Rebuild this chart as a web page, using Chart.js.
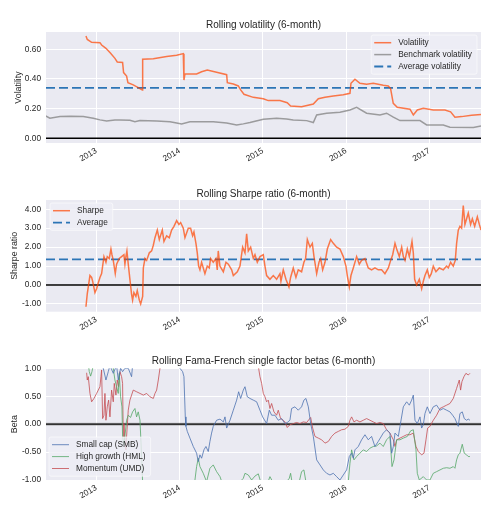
<!DOCTYPE html>
<html>
<head>
<meta charset="utf-8">
<script src="https://cdn.jsdelivr.net/npm/chart.js@4.4.1/dist/chart.umd.min.js"></script>
<style>
body { margin: 0; background: #fff; }
canvas { position: absolute; left: 0; }
</style>
</head>
<body>
<canvas id="volChart" width="499" height="170" style="top:0px"></canvas>
<canvas id="sharpeChart" width="499" height="170" style="top:170px"></canvas>
<canvas id="betaChart" width="499" height="172" style="top:340px"></canvas>
<script>
// x axis: dates as fractional years
const xMin = 2012.396, xMax = 2017.621;
const yearTicks = [2013, 2014, 2015, 2016, 2017];

// Rolling volatility
const volDates = [2012.876, 2012.892, 2012.944, 2013.044, 2013.064, 2013.116, 2013.172, 2013.224, 2013.252, 2013.316,
    2013.328, 2013.364, 2013.380, 2013.444, 2013.504, 2013.553, 2013.557, 2013.685, 2013.845, 2013.965,
    2014.045, 2014.053, 2014.065, 2014.205, 2014.265, 2014.333, 2014.445, 2014.566, 2014.574, 2014.646,
    2014.706, 2014.734, 2014.774, 2014.886, 2015.006, 2015.066, 2015.206, 2015.294, 2015.334, 2015.466,
    2015.607, 2015.667, 2015.747, 2015.847, 2015.967, 2016.047, 2016.059, 2016.107, 2016.167, 2016.247,
    2016.327, 2016.447, 2016.507, 2016.535, 2016.567, 2016.615, 2016.768, 2016.808, 2016.856, 2016.928,
    2017.048, 2017.188, 2017.256, 2017.308, 2017.388, 2017.508, 2017.621];
const volValues = [0.690, 0.667, 0.647, 0.645, 0.629, 0.607, 0.573, 0.539, 0.515, 0.512,
    0.443, 0.420, 0.375, 0.360, 0.342, 0.326, 0.533, 0.537, 0.551, 0.560,
    0.571, 0.393, 0.434, 0.434, 0.449, 0.461, 0.445, 0.429, 0.375, 0.366,
    0.353, 0.326, 0.297, 0.276, 0.267, 0.254, 0.254, 0.240, 0.218, 0.213,
    0.231, 0.267, 0.276, 0.285, 0.294, 0.303, 0.371, 0.398, 0.371, 0.364,
    0.371, 0.357, 0.353, 0.335, 0.236, 0.209, 0.196, 0.157, 0.191, 0.202,
    0.191, 0.191, 0.178, 0.142, 0.146, 0.155, 0.160];

const benchDates = [2012.391, 2012.443, 2012.564, 2012.684, 2012.844, 2012.964, 2013.044, 2013.124, 2013.224, 2013.284,
    2013.404, 2013.464, 2013.525, 2013.725, 2013.885, 2013.965, 2014.025, 2014.125, 2014.405, 2014.566,
    2014.686, 2014.766, 2014.846, 2015.006, 2015.166, 2015.286, 2015.366, 2015.527, 2015.607, 2015.647,
    2015.767, 2015.927, 2016.047, 2016.127, 2016.247, 2016.407, 2016.487, 2016.568, 2016.648, 2016.888,
    2016.968, 2017.168, 2017.248, 2017.529, 2017.621];
const benchValues = [0.151, 0.135, 0.146, 0.148, 0.146, 0.135, 0.124, 0.117, 0.124, 0.124,
    0.121, 0.112, 0.119, 0.117, 0.112, 0.103, 0.097, 0.112, 0.112, 0.103,
    0.090, 0.097, 0.106, 0.128, 0.135, 0.130, 0.124, 0.119, 0.106, 0.157,
    0.169, 0.175, 0.191, 0.209, 0.169, 0.157, 0.169, 0.142, 0.119, 0.119,
    0.090, 0.090, 0.074, 0.072, 0.083];
const avgVolatility = 0.34;
const volTicks = [0, 0.2, 0.4, 0.6];

// Rolling Sharpe ratio
const sharpeDates = [
    2012.876, 2012.892, 2012.924, 2012.944, 2012.956, 2012.984, 2013.004, 2013.016, 2013.044, 2013.064,
    2013.076, 2013.092, 2013.116, 2013.132, 2013.156, 2013.176, 2013.188, 2013.204, 2013.228, 2013.244,
    2013.276, 2013.304, 2013.332, 2013.344, 2013.356, 2013.368, 2013.384, 2013.404, 2013.424, 2013.436,
    2013.452, 2013.476, 2013.492, 2013.517, 2013.533, 2013.557, 2013.565, 2013.585, 2013.605, 2013.637,
    2013.665, 2013.685, 2013.705, 2013.733, 2013.757, 2013.793, 2013.813, 2013.845, 2013.877, 2013.905,
    2013.933, 2013.965, 2013.993, 2014.013, 2014.045, 2014.065, 2014.105, 2014.133, 2014.157, 2014.173,
    2014.197, 2014.213, 2014.229, 2014.245, 2014.265, 2014.305, 2014.333, 2014.357, 2014.373, 2014.405,
    2014.437, 2014.453, 2014.465, 2014.485, 2014.526, 2014.558, 2014.586, 2014.626, 2014.646, 2014.694,
    2014.726, 2014.758, 2014.786, 2014.806, 2014.826, 2014.854, 2014.886, 2014.906, 2014.934, 2014.966,
    2015.006, 2015.026, 2015.046, 2015.086, 2015.126, 2015.166, 2015.206, 2015.218, 2015.246, 2015.278,
    2015.314, 2015.334, 2015.366, 2015.398, 2015.426, 2015.466, 2015.494, 2015.514, 2015.535, 2015.567,
    2015.595, 2015.615, 2015.647, 2015.675, 2015.695, 2015.719, 2015.747, 2015.775, 2015.815, 2015.847,
    2015.887, 2015.927, 2015.967, 2015.999, 2016.015, 2016.039, 2016.059, 2016.087, 2016.127, 2016.159,
    2016.187, 2016.227, 2016.267, 2016.307, 2016.347, 2016.387, 2016.427, 2016.467, 2016.508, 2016.536,
    2016.560, 2016.588, 2016.608, 2016.640, 2016.668, 2016.688, 2016.708, 2016.736, 2016.760, 2016.792,
    2016.808, 2016.824, 2016.848, 2016.880, 2016.908, 2016.928, 2016.948, 2016.976, 2017.000, 2017.024,
    2017.048, 2017.080, 2017.120, 2017.168, 2017.208, 2017.228, 2017.256, 2017.288, 2017.312, 2017.328,
    2017.348, 2017.368, 2017.388, 2017.408, 2017.428, 2017.448, 2017.468, 2017.496, 2017.517, 2017.545,
    2017.577, 2017.601, 2017.621];
const sharpeValues = [
    -1.15, -0.45, 0.50, 0.40, 0.20, -0.40, -0.20, 0.00, 0.40, 0.60,
    1.00, 1.50, 1.20, 1.50, 1.40, 1.90, 1.60, 1.30, 0.60, 1.10,
    1.40, 1.50, 1.60, 1.10, 1.50, 1.80, 1.10, 0.30, -0.50, -0.80,
    -0.40, -0.60, -0.30, -0.80, -1.00, -0.60, 0.90, 1.40, 1.30, 1.70,
    1.80, 2.10, 2.50, 2.90, 2.40, 2.90, 2.30, 2.60, 2.50, 2.90,
    3.10, 3.40, 3.20, 3.30, 3.00, 2.50, 3.00, 3.00, 2.60, 2.80,
    2.20, 1.70, 1.00, 0.80, 1.20, 0.60, 1.00, 0.90, 1.40, 1.20,
    1.40, 0.80, 1.80, 1.00, 0.70, 1.20, 1.10, 0.80, 0.50, 0.70,
    1.00, 2.00, 1.70, 2.70, 1.80, 2.00, 1.40, 1.60, 1.20, 1.50,
    1.60, 1.00, 0.50, 0.30, 0.50, 0.30, 0.60, 0.20, 0.80, 0.30,
    -0.10, 0.40, 0.90, 0.40, 0.80, 0.70, 1.20, 1.40, 2.40, 2.00,
    2.20, 1.50, 0.60, 1.20, 1.40, 0.80, 1.20, 1.90, 2.40, 2.20,
    2.00, 1.90, 1.50, 1.00, 0.50, -0.10, 0.50, 0.90, 1.50, 1.10,
    1.30, 1.40, 0.90, 0.80, 0.90, 0.80, 0.80, 0.60, 0.90, 1.30,
    1.60, 2.20, 1.90, 1.50, 2.00, 1.50, 1.30, 1.90, 1.50, 2.30,
    1.70, 0.30, 0.00, 0.30, -0.20, 0.20, 0.50, 0.80, 0.40, 0.60,
    1.00, 0.70, 0.90, 0.80, 1.00, 0.90, 1.20, 1.00, 1.30, 2.20,
    2.90, 3.10, 3.00, 4.20, 3.20, 3.50, 3.80, 3.20, 3.50, 3.10,
    3.60, 3.20, 2.90];
const avgSharpe = 1.35;
const sharpeTicks = [-1, 0, 1, 2, 3, 4];

// Rolling Fama-French betas
const smbDates = [
    2012.884, 2013.044, 2013.084, 2013.116, 2013.144, 2013.164, 2013.204, 2013.244, 2013.264, 2013.292,
    2013.316, 2013.344, 2013.384, 2013.424, 2013.436, 2013.600, 2013.900, 2014.005, 2014.037, 2014.053,
    2014.069, 2014.077, 2014.093, 2014.125, 2014.165, 2014.205, 2014.225, 2014.245, 2014.265, 2014.293,
    2014.317, 2014.345, 2014.365, 2014.385, 2014.405, 2014.445, 2014.486, 2014.526, 2014.546, 2014.566,
    2014.606, 2014.646, 2014.686, 2014.710, 2014.734, 2014.766, 2014.786, 2014.814, 2014.846, 2014.886,
    2014.926, 2014.966, 2014.998, 2015.046, 2015.078, 2015.106, 2015.146, 2015.186, 2015.226, 2015.266,
    2015.294, 2015.326, 2015.346, 2015.386, 2015.426, 2015.466, 2015.494, 2015.518, 2015.547, 2015.575,
    2015.607, 2015.647, 2015.687, 2015.727, 2015.767, 2015.807, 2015.847, 2015.887, 2015.927, 2015.967,
    2016.007, 2016.039, 2016.067, 2016.087, 2016.107, 2016.147, 2016.187, 2016.227, 2016.267, 2016.307,
    2016.347, 2016.387, 2016.447, 2016.487, 2016.527, 2016.548, 2016.568, 2016.588, 2016.628, 2016.648,
    2016.688, 2016.728, 2016.760, 2016.788, 2016.808, 2016.828, 2016.856, 2016.888, 2016.908, 2016.928,
    2016.948, 2016.976, 2017.008, 2017.048, 2017.088, 2017.128, 2017.168, 2017.208, 2017.248, 2017.280,
    2017.308, 2017.348, 2017.368, 2017.396, 2017.420, 2017.448, 2017.468, 2017.488];
const smbValues = [
    1.40, 1.30, 1.00, 0.79, 0.94, 1.05, 0.91, 1.05, 0.79, 1.00,
    0.94, 1.00, 1.00, 0.85, 1.05, 1.40, 1.50, 1.00, 0.94, 0.85,
    0.13, -0.04, -0.13, -0.25, -0.40, -0.52, -0.67, -0.55, -0.61, -0.46,
    -0.40, -0.49, -0.31, -0.16, -0.04, 0.07, 0.09, 0.04, 0.13, -0.07,
    0.07, 0.25, 0.43, 0.58, 0.46, 0.61, 0.67, 0.49, 0.46, 0.43,
    0.40, 0.25, 0.13, 0.01, 0.25, 0.16, 0.16, 0.07, 0.10, 0.01,
    0.03, 0.07, 0.28, 0.31, 0.25, 0.31, 0.43, 0.46, 0.31, 0.01,
    -0.22, -0.64, -0.73, -0.82, -0.88, -0.91, -0.88, -0.94, -1.00, -0.91,
    -0.82, -0.58, -0.52, -0.61, -0.46, -0.40, -0.28, -0.19, -0.28, -0.22,
    -0.40, -0.31, -0.16, -0.10, -0.16, -0.52, -0.40, -0.16, -0.22, -0.04,
    0.31, 0.40, 0.34, 0.43, 0.52, 0.07, 0.01, 0.13, -0.07, -0.01,
    0.19, 0.31, 0.19, 0.31, 0.34, 0.25, 0.28, 0.25, 0.22, 0.16,
    0.10, -0.04, 0.19, 0.22, 0.10, 0.07, 0.09, 0.07];

const hmlDates = [
    2012.884, 2012.916, 2012.932, 2012.948, 2012.964, 2013.044, 2013.184, 2013.204, 2013.224, 2013.244,
    2013.264, 2013.276, 2013.292, 2013.308, 2013.316, 2013.332, 2013.348, 2013.364, 2013.384, 2013.412,
    2013.436, 2013.464, 2013.484, 2013.504, 2013.525, 2013.541, 2013.557, 2013.800, 2014.100, 2014.185,
    2014.205, 2014.225, 2014.245, 2014.285, 2014.325, 2014.365, 2014.405, 2014.445, 2014.486, 2014.514,
    2014.646, 2014.766, 2014.786, 2014.826, 2014.866, 2014.906, 2014.946, 2014.974, 2015.046, 2015.086,
    2015.118, 2015.246, 2015.318, 2015.334, 2015.350, 2015.438, 2015.466, 2015.494, 2015.518, 2015.767,
    2016.027, 2016.047, 2016.067, 2016.095, 2016.127, 2016.167, 2016.207, 2016.247, 2016.287, 2016.327,
    2016.367, 2016.407, 2016.447, 2016.487, 2016.527, 2016.552, 2016.576, 2016.608, 2016.648, 2016.688,
    2016.736, 2016.776, 2016.808, 2016.840, 2016.856, 2016.880, 2016.928, 2016.968, 2017.008, 2017.048,
    2017.088, 2017.128, 2017.168, 2017.208, 2017.248, 2017.288, 2017.308, 2017.328, 2017.348, 2017.368,
    2017.396, 2017.420, 2017.448, 2017.468, 2017.488];
const hmlValues = [
    1.30, 0.94, 0.86, 0.94, 1.06, 1.30, 1.20, 1.00, 0.79, 0.67,
    0.55, 0.91, 0.49, 0.31, -0.22, -0.37, -0.16, 0.07, 0.16, 0.12,
    0.22, 0.28, 0.13, 0.22, 0.07, -0.46, -1.06, -1.30, -1.20, -1.00,
    -0.76, -0.61, -0.76, -0.88, -1.03, -0.79, -0.73, -0.85, -0.94, -1.06,
    -1.15, -0.97, -0.88, -0.91, -1.00, -0.93, -0.89, -1.03, -1.10, -0.94,
    -1.03, -1.10, -0.97, -0.88, -1.03, -1.03, -0.85, -0.82, -1.03, -1.20,
    -1.03, -0.70, -0.46, -0.64, -0.58, -0.52, -0.46, -0.49, -0.43, -0.40,
    -0.39, -0.34, -0.40, -0.28, -0.22, -0.76, -0.64, -0.28, -0.28, -0.25,
    -0.22, -0.12, -0.10, -0.46, -0.88, -1.00, -0.94, -1.00, -1.00, -0.88,
    -0.85, -0.82, -0.79, -0.78, -0.79, -0.76, -0.79, -0.64, -0.55, -0.52,
    -0.36, -0.52, -0.55, -0.58, -0.58];

const umdDates = [
    2012.884, 2012.892, 2012.904, 2012.924, 2012.944, 2012.972, 2013.004, 2013.024, 2013.044, 2013.056,
    2013.064, 2013.076, 2013.092, 2013.104, 2013.116, 2013.132, 2013.148, 2013.164, 2013.184, 2013.204,
    2013.216, 2013.236, 2013.252, 2013.268, 2013.284, 2013.304, 2013.316, 2013.324, 2013.332, 2013.340,
    2013.356, 2013.364, 2013.384, 2013.404, 2013.424, 2013.444, 2013.484, 2013.525, 2013.565, 2013.605,
    2013.645, 2013.685, 2013.705, 2013.725, 2013.745, 2013.765, 2013.850, 2014.300, 2014.900, 2014.950,
    2014.966, 2014.986, 2015.006, 2015.026, 2015.046, 2015.066, 2015.086, 2015.106, 2015.134, 2015.166,
    2015.186, 2015.214, 2015.246, 2015.266, 2015.294, 2015.326, 2015.366, 2015.406, 2015.446, 2015.486,
    2015.527, 2015.575, 2015.599, 2015.627, 2015.667, 2015.707, 2015.747, 2015.787, 2015.827, 2015.867,
    2015.907, 2015.947, 2015.987, 2016.027, 2016.047, 2016.067, 2016.095, 2016.127, 2016.167, 2016.207,
    2016.247, 2016.287, 2016.327, 2016.367, 2016.407, 2016.447, 2016.487, 2016.527, 2016.568, 2016.588,
    2016.608, 2016.648, 2016.688, 2016.728, 2016.768, 2016.808, 2016.840, 2016.868, 2016.908, 2016.936,
    2016.960, 2016.980, 2017.008, 2017.048, 2017.088, 2017.128, 2017.168, 2017.208, 2017.248, 2017.288,
    2017.328, 2017.360, 2017.376, 2017.392, 2017.416, 2017.440, 2017.468, 2017.488];
const umdValues = [
    0.92, 0.79, 0.85, 0.55, 0.40, 0.46, 0.55, 0.61, 0.67, 0.85,
    0.97, 0.10, 0.16, 0.55, 0.07, 0.31, 0.43, 0.13, 0.61, 0.40,
    0.73, 0.52, 0.79, 0.67, 0.94, 0.85, 0.73, -0.22, 0.01, -0.22,
    -0.46, -0.22, 0.25, 0.43, 0.52, 0.61, 0.58, 0.55, 0.52, 0.55,
    0.49, 0.46, 0.55, 0.61, 0.79, 1.00, 1.30, 1.50, 1.20, 1.00,
    0.85, 0.73, 0.55, 0.49, 0.40, 0.43, 0.28, 0.37, 0.22, 0.16,
    0.25, 0.10, 0.07, 0.04, -0.06, -0.01, 0.01, 0.03, 0.01, 0.04,
    0.03, 0.12, -0.07, -0.22, -0.25, -0.28, -0.34, -0.31, -0.22, -0.16,
    -0.13, -0.10, -0.09, -0.04, 0.07, 0.13, 0.04, 0.07, 0.04, 0.07,
    0.10, 0.07, 0.04, 0.01, 0.03, 0.01, -0.10, -0.16, -0.28, -0.40,
    -0.28, -0.25, -0.22, -0.19, -0.19, -0.16, -0.40, -0.49, -0.55, -0.52,
    -0.28, -0.07, -0.04, 0.07, 0.16, 0.28, 0.31, 0.34, 0.37, 0.46,
    0.64, 0.79, 0.61, 0.76, 0.85, 0.91, 0.88, 0.91];
const betaTicks = [-1, -0.5, 0, 0.5, 1];

const FONT = "'Liberation Sans', Arial, sans-serif";
const TEXT = '#262626';
Chart.defaults.font.family = FONT;
Chart.defaults.color = TEXT;

function toPoints(xs, ys) {
    return xs.map((x, i) => ({ x: x, y: ys[i] }));
}
function hline(y) {
    return [{ x: xMin, y: y }, { x: xMax, y: y }];
}

// grey panel behind the plot
const panelBg = {
    id: 'panelBg',
    beforeDraw(chart) {
        const { ctx, chartArea: a } = chart;
        ctx.save();
        ctx.fillStyle = '#EAEAF2';
        ctx.fillRect(a.left, a.top, a.right - a.left, a.bottom - a.top);
        ctx.restore();
    }
};

// axes title centred over the plot area (matplotlib style)
const axesTitle = {
    id: 'axesTitle',
    afterDraw(chart, args, opts) {
        const { ctx, chartArea: a } = chart;
        ctx.save();
        ctx.font = '10px ' + FONT;
        ctx.fillStyle = TEXT;
        ctx.textAlign = 'center';
        ctx.textBaseline = 'middle';
        ctx.fillText(opts.text, (a.left + a.right) / 2, opts.y);
        ctx.restore();
    }
};

// legend drawn inside the axes, like matplotlib
const boxLegend = {
    id: 'boxLegend',
    afterDraw(chart, args, opts) {
        const ctx = chart.ctx;
        const items = chart.data.datasets.filter(d => d.label);
        ctx.save();
        ctx.font = '8.3px ' + FONT;
        const textW = Math.max(...items.map(d => ctx.measureText(d.label).width));
        const w = 27 + textW + 5;
        const h = 15.4 + (items.length - 1) * 11.9;
        const x = opts.right ? opts.right - w : opts.x;
        const y = opts.y;
        ctx.fillStyle = 'rgba(238,238,245,0.8)';
        ctx.strokeStyle = 'rgba(255,255,255,0.7)';
        ctx.lineWidth = 0.8;
        ctx.beginPath();
        ctx.roundRect(x, y, w, h, 2);
        ctx.fill();
        ctx.stroke();
        items.forEach((d, i) => {
            const ly = y + 7.7 + i * 11.9;
            ctx.strokeStyle = d.borderColor;
            ctx.lineWidth = d.borderWidth;
            ctx.setLineDash(d.borderDash || []);
            ctx.beginPath();
            ctx.moveTo(x + 3, ly);
            ctx.lineTo(x + 20, ly);
            ctx.stroke();
            ctx.setLineDash([]);
            ctx.fillStyle = TEXT;
            ctx.textBaseline = 'middle';
            ctx.fillText(d.label, x + 27, ly);
        });
        ctx.restore();
    }
};

function makeChart(id, cfg) {
    new Chart(id, {
        type: 'line',
        data: { datasets: cfg.datasets },
        options: {
            responsive: false,
            animation: false,
            elements: { point: { radius: 0 }, line: { tension: 0 } },
            layout: { padding: { left: 0, right: 18, top: cfg.top, bottom: 0 } },
            plugins: {
                legend: { display: false },
                tooltip: { enabled: false },
                title: { display: false },
                axesTitle: { text: cfg.title, y: cfg.titleY },
                boxLegend: cfg.legend
            },
            scales: {
                x: {
                    type: 'linear', min: xMin, max: xMax,
                    afterBuildTicks: s => { s.ticks = yearTicks.map(v => ({ value: v })); },
                    afterFit: s => { s.height = cfg.xHeight; },
                    grid: { color: '#ffffff', lineWidth: 1, drawTicks: false },
                    border: { display: false },
                    ticks: {
                        autoSkip: false, maxRotation: 30, minRotation: 30, padding: 3,
                        color: TEXT, font: { size: 8.3 }, callback: v => String(v)
                    }
                },
                y: {
                    min: cfg.yMin, max: cfg.yMax,
                    afterBuildTicks: s => { s.ticks = cfg.yTicks.map(v => ({ value: v })); },
                    afterFit: s => { s.width = 46; },
                    grid: { color: '#ffffff', lineWidth: 1, drawTicks: false },
                    border: { display: false },
                    ticks: { padding: 5, color: TEXT, font: { size: 8.3 }, callback: v => v.toFixed(2) },
                    title: {
                        display: true, text: cfg.yTitle, color: TEXT,
                        font: { size: 8.8 }, padding: { top: cfg.yTitlePad, bottom: 0 }
                    }
                }
            }
        },
        plugins: [panelBg, axesTitle, boxLegend]
    });
}

const ORANGE = 'rgba(255,69,0,0.7)';
const STEEL = 'rgba(44,117,182,1)';

makeChart('volChart', {
    title: 'Rolling volatility (6-month)', titleY: 25, top: 32,
    yTitle: 'Volatility', yTitlePad: 13,
    yMin: -0.032, yMax: 0.717, yTicks: volTicks,
    xHeight: 27,
    legend: { right: 477, y: 35 },
    datasets: [
        { label: 'Volatility', data: toPoints(volDates, volValues), borderColor: ORANGE, borderWidth: 1.5 },
        { label: 'Benchmark volatility', data: toPoints(benchDates, benchValues), borderColor: 'rgba(128,128,128,0.75)', borderWidth: 1.5 },
        { label: 'Average volatility', data: hline(avgVolatility), borderColor: STEEL, borderWidth: 1.8, borderDash: [9, 4] },
        { label: '', data: hline(0), borderColor: '#000000', borderWidth: 1.5 }
    ]
});

makeChart('sharpeChart', {
    title: 'Rolling Sharpe ratio (6-month)', titleY: 24, top: 30,
    yTitle: 'Sharpe ratio', yTitlePad: 9.7,
    yMin: -1.41, yMax: 4.49, yTicks: sharpeTicks,
    xHeight: 28.3,
    legend: { x: 50, y: 33 },
    datasets: [
        { label: 'Sharpe', data: toPoints(sharpeDates, sharpeValues), borderColor: ORANGE, borderWidth: 1.5 },
        { label: 'Average', data: hline(avgSharpe), borderColor: STEEL, borderWidth: 1.8, borderDash: [9, 4] },
        { label: '', data: hline(0), borderColor: '#000000', borderWidth: 1.5 }
    ]
});

makeChart('betaChart', {
    title: 'Rolling Fama-French single factor betas (6-month)', titleY: 21.7, top: 28.3,
    yTitle: 'Beta', yTitlePad: 9.7,
    yMin: -1, yMax: 1, yTicks: betaTicks,
    xHeight: 32,
    legend: { x: 49, y: 97 },
    datasets: [
        { label: 'Small cap (SMB)', data: toPoints(smbDates, smbValues), borderColor: 'rgba(76,114,176,0.8)', borderWidth: 1 },
        { label: 'High growth (HML)', data: toPoints(hmlDates, hmlValues), borderColor: 'rgba(85,168,104,0.8)', borderWidth: 1 },
        { label: 'Momentum (UMD)', data: toPoints(umdDates, umdValues), borderColor: 'rgba(196,78,82,0.8)', borderWidth: 1 },
        { label: '', data: hline(0), borderColor: '#000000', borderWidth: 1.2 },
        { label: '', data: hline(0), borderColor: 'rgba(140,140,140,0.5)', borderWidth: 3 }
    ]
});
</script>
</body>
</html>
